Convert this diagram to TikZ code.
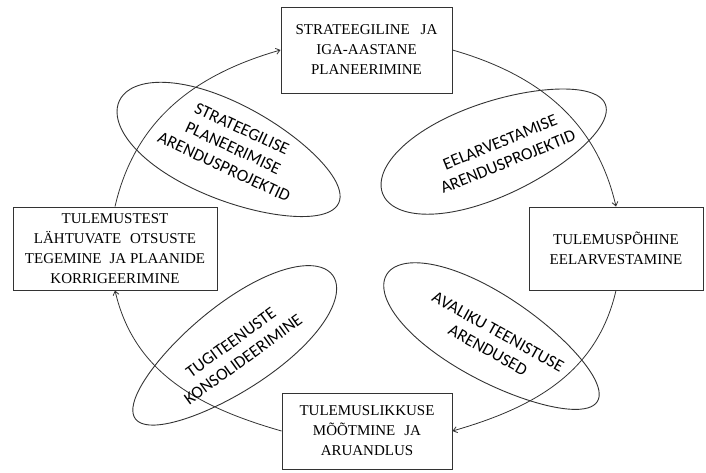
\documentclass[tikz,border=0pt]{standalone}
\usepackage{fontspec}
\setmainfont{Liberation Serif}
\newfontfamily\ovalfont{Carlito}
\usetikzlibrary{arrows.meta}

% egg-shaped outline: centre x, centre y, rotation, half length, half width, bulge
\newcommand\ringegg[6]{%
  \draw[oval, shift={(#1,#2)}, rotate=#3]
    plot[domain=0:356, samples=90, smooth cycle, variable=\t]
    ({#4*cos(\t)}, {#5*sin(\t)*(1+#6*cos(\t))});}

\begin{document}
\begin{tikzpicture}[x=1pt, y=1pt,
  stage/.style={draw=black!80, line width=0.9pt, fill=white, align=center,
    font=\fontsize{15}{20}\selectfont, inner sep=0pt},
  oval/.style={draw=black!80, line width=0.9pt},
  ovaltext/.style={align=center, font=\ovalfont\fontsize{17.2}{21}\selectfont,
    inner sep=0pt},
  loop/.style={draw=black!80, line width=0.8pt,
    -{Straight Barb[length=4pt, width=6pt]}}
]
\useasboundingbox (0,0) rectangle (706,472);

% the four stages of the cycle
\node[stage, minimum width=171pt, minimum height=86pt] (T) at (366.5,422)
  {STRATEEGILINE\hspace{11pt}JA\\IGA-AASTANE\\PLANEERIMINE};
\node[stage, minimum width=174pt, minimum height=83pt] (R) at (616,223.5)
  {TULEMUSPÕHINE\\EELARVESTAMINE};
\node[stage, minimum width=170pt, minimum height=76pt] (B) at (367,41)
  {TULEMUSLIKKUSE\\MÕÕTMINE\hspace{9pt}JA\\ARUANDLUS};
\node[stage, minimum width=204pt, minimum height=83pt] (L) at (115,223.5)
  {TULEMUSTEST\\LÄHTUVATE\hspace{9pt}OTSUSTE\\TEGEMINE\hspace{8pt}JA PLAANIDE\\KORRIGEERIMINE};

% the cycle connecting the stages
\draw[loop] (L.north) to[out=77, in=196] (T.west);
\draw[loop] (T.east) to[out=-16, in=103] (R.north);
\draw[loop] (R.south) to[out=-103, in=16] (B.east);
\draw[loop] (B.west) to[out=164, in=-77] (L.south);

% development projects between the stages
\ringegg{229}{320}{-25}{121}{48}{-0.12}
\ringegg{494}{323}{22}{120}{47}{-0.12}
\ringegg{234}{125}{36}{122}{43}{0.12}
\ringegg{492}{134}{-31}{123}{43}{-0.12}

\node[ovaltext, rotate=-25] (p1) at (233,324)
  {STRATEEGILISE\\PLANEERIMISE\\ARENDUSPROJEKTID};
\node[ovaltext, rotate=22] (p2) at (504,320)
  {EELARVESTAMISE\\ARENDUSPROJEKTID};
\node[ovaltext, rotate=36] (p3) at (237,121)
  {TUGITEENUSTE\\KONSOLIDEERIMINE};
\node[ovaltext, rotate=-29] (p4) at (493,131)
  {AVALIKU TEENISTUSE\\ARENDUSED};
\end{tikzpicture}
\end{document}
